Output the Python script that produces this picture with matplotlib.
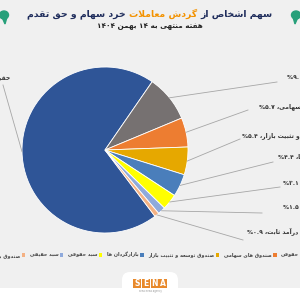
import re
import numpy as np
import matplotlib
matplotlib.use("Agg")
import matplotlib.pyplot as plt
from matplotlib.patches import Rectangle, FancyBboxPatch, Ellipse, Polygon

plt.rcParams['font.family'] = ['DejaVu Sans']

# data
categories = ['حقیقی', 'حقوقی', 'صندوق های سهامی', 'صندوق توسعه و تثبیت بازار',
              'بازارگردان ها', 'سبد حقوقی', 'سبد حقیقی', 'صندوق با درآمد ثابت']
shares = [69.9, 9.1, 5.7, 5.4, 4.4, 3.1, 1.5, 0.9]
colors = ['#2f5597', '#767171', '#ed7d31', '#e6a800', '#4a7ebb', '#ffff00', '#8faadc', '#f4b183']

title_a = 'سهم اشخاص از'
title_b = 'گردش معاملات'
title_c = 'خرد سهام و حق تقدم'
subtitle = 'هفته منتهی به ۱۴ بهمن ۱۴۰۴'

# label anchors (pixels from top-left) and leader line ends
label_pos = [(10, 78), (287, 77), (259, 107), (242, 136), (278, 157), (283, 183), (283, 207), (247, 231)]
line_end = [(3, 85), (277, 82), (248, 110), (240, 139), (273, 162), (280, 187), (262, 213), (243, 240)]

# --- simple persian shaping (matplotlib has no bidi / joining) ---
FORMS = {
    'ا': ('\uFE8D', '\uFE8E', None, None),
    'آ': ('\uFE81', '\uFE82', None, None),
    'ب': ('\uFE8F', '\uFE90', '\uFE91', '\uFE92'),
    'ت': ('\uFE95', '\uFE96', '\uFE97', '\uFE98'),
    'ث': ('\uFE99', '\uFE9A', '\uFE9B', '\uFE9C'),
    'ح': ('\uFEA1', '\uFEA2', '\uFEA3', '\uFEA4'),
    'خ': ('\uFEA5', '\uFEA6', '\uFEA7', '\uFEA8'),
    'د': ('\uFEA9', '\uFEAA', None, None),
    'ر': ('\uFEAD', '\uFEAE', None, None),
    'ز': ('\uFEAF', '\uFEB0', None, None),
    'س': ('\uFEB1', '\uFEB2', '\uFEB3', '\uFEB4'),
    'ش': ('\uFEB5', '\uFEB6', '\uFEB7', '\uFEB8'),
    'ص': ('\uFEB9', '\uFEBA', '\uFEBB', '\uFEBC'),
    'ع': ('\uFEC9', '\uFECA', '\uFECB', '\uFECC'),
    'ف': ('\uFED1', '\uFED2', '\uFED3', '\uFED4'),
    'ق': ('\uFED5', '\uFED6', '\uFED7', '\uFED8'),
    'ل': ('\uFEDD', '\uFEDE', '\uFEDF', '\uFEE0'),
    'م': ('\uFEE1', '\uFEE2', '\uFEE3', '\uFEE4'),
    'ن': ('\uFEE5', '\uFEE6', '\uFEE7', '\uFEE8'),
    'ه': ('\uFEE9', '\uFEEA', '\uFEEB', '\uFEEC'),
    'و': ('\uFEED', '\uFEEE', None, None),
    'ی': ('\uFBFC', '\uFBFD', '\uFBFE', '\uFBFF'),
    'گ': ('\uFB92', '\uFB93', '\uFB94', '\uFB95'),
}
LAM_ALEF = {'ا': ('\uFEFB', '\uFEFC'), 'آ': ('\uFEF5', '\uFEF6')}


def shape(s):
    out = []
    i = 0
    while i < len(s):
        c = s[i]
        if c not in FORMS:
            out.append(c)
            i += 1
            continue
        prev = s[i - 1] if i > 0 else ''
        pj = prev in FORMS and FORMS[prev][2] is not None
        if c == 'ل' and i + 1 < len(s) and s[i + 1] in LAM_ALEF:
            out.append(LAM_ALEF[s[i + 1]][1 if pj else 0])
            i += 2
            continue
        nxt = s[i + 1] if i + 1 < len(s) else ''
        f = FORMS[c]
        nj = f[2] is not None and nxt in FORMS
        out.append(f[3] if pj and nj else f[1] if pj else f[2] if nj else f[0])
        i += 1
    return ''.join(out)


def rtl(s):
    tokens = re.findall(r'[0-9۰-۹.]+|.', shape(s))
    return ''.join(reversed(tokens))


def fa(v):
    return f'{v:.1f}'.translate(str.maketrans('0123456789', '۰۱۲۳۴۵۶۷۸۹'))


def Y(y):
    return 300 - y


fig = plt.figure(figsize=(3, 3), dpi=100, facecolor='#f0f0f0')
ax = fig.add_axes([0, 0, 1, 1])
renderer = fig.canvas.get_renderer()

# pie
cx0, cy0, R = 105, 150, 83
wedges, _ = ax.pie(shares, colors=colors, startangle=-53, counterclock=False, radius=R,
                   center=(cx0, Y(cy0)), frame=True,
                   wedgeprops=dict(edgecolor='white', linewidth=0.6))
ax.set_xlim(0, 300)
ax.set_ylim(0, 300)
ax.axis('off')

# title in three colour pieces (visual order left to right), fitted to 246 px
navy = '#1f2d5c'
pieces = [(rtl(title_c), navy), (' ', navy), (rtl(title_b), '#f39200'), (' ', navy), (rtl(title_a), navy)]
txts = [ax.text(0, Y(14), p, fontsize=8, fontweight='bold', color=c, va='center', ha='left')
        for p, c in pieces]
total = sum(t.get_window_extent(renderer).width for t in txts)
fs = 8 * 246 / total
for t in txts:
    t.set_fontsize(fs)
widths = [t.get_window_extent(renderer).width for t in txts]
x = 150 - sum(widths) / 2
for t, w in zip(txts, widths):
    t.set_x(x)
    x += w
ax.text(150, Y(27), rtl(subtitle), fontsize=5.2, fontweight='bold', color='#222222',
        ha='center', va='center')

# green icons at the header corners
for cx, flip in [(4, 1), (296, -1)]:
    ax.add_patch(Ellipse((cx, Y(15)), 9, 8, color='#27a07a'))
    ax.add_patch(Polygon([(cx - 2 * flip, Y(17)), (cx + 1 * flip, Y(24)), (cx + 3 * flip, Y(17))],
                         color='#27a07a'))

# leader lines + labels
for w, name, v, (lx, ly), (ex, ey) in zip(wedges, categories, shares, label_pos, line_end):
    th = np.deg2rad((w.theta1 + w.theta2) / 2)
    sx, sy = cx0 + R * np.cos(th), Y(cy0) + R * np.sin(th)
    ax.plot([sx, ex], [sy, Y(ey)], color='#a6a6a6', lw=0.6)
    ha = 'right' if lx < 100 else 'left'
    ax.text(lx, Y(ly), rtl(name + '، ' + fa(v) + '%'), fontsize=4.3, fontweight='bold',
            color='#333333', ha=ha, va='center')

# legend (RTL: marker right of text), laid out from the right
x = 331
for name, c in zip(categories, colors):
    ax.add_patch(Rectangle((x - 3.5, Y(255) - 1.75), 3.5, 3.5, color=c, lw=0))
    t = ax.text(x - 5, Y(255), rtl(name), fontsize=3.5, fontweight='bold', color='#444444',
                ha='right', va='center')
    x -= 5 + t.get_window_extent(renderer).width + 4.5

# footer
ax.add_patch(Rectangle((0, 0), 300, 12, color='white', lw=0))
ax.add_patch(FancyBboxPatch((122, -10), 56, 38, boxstyle='round,pad=0,rounding_size=8',
                            color='white', lw=0))
for i, ch in enumerate('SENA'):
    ax.add_patch(Rectangle((133 + i * 8.8, Y(288)), 8, 9, color='#e8892b', lw=0))
    ax.text(137 + i * 8.8, Y(283.5), ch, fontsize=5.5, fontweight='bold', color='white',
            ha='center', va='center')
ax.text(150, Y(291), 'sena news agency', fontsize=1.8, color='#999999', ha='center', va='center')

fig.savefig('out.png', dpi=100, facecolor=fig.get_facecolor())
